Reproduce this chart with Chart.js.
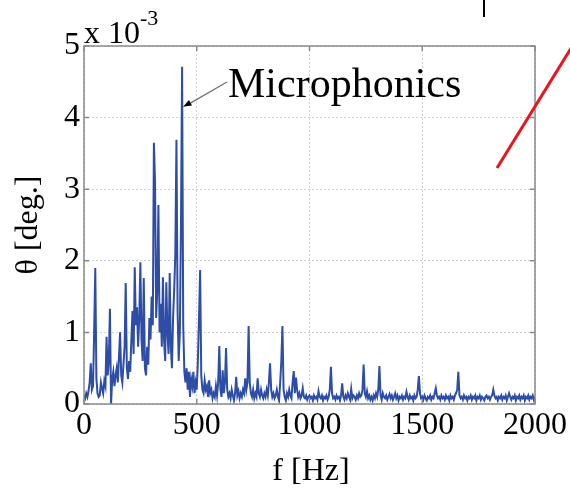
<!DOCTYPE html>
<html>
<head>
<meta charset="utf-8">
<script src="https://cdn.jsdelivr.net/npm/chart.js@4.4.1/dist/chart.umd.min.js"></script>
<style>
  html, body { margin: 0; padding: 0; background: #fff; }
  #c { display: block; }
</style>
</head>
<body>
<canvas id="c" width="570" height="492"></canvas>
<script>
// spectrum sampled every 5 Hz, amplitude in units of 1e-3 deg
const stepHz = 5;
const thetaMilli = [
  0.12, 0.08, 0.15, 0.10, 0.18, 0.30, 0.57, 0.20, 0.25, 1.00, 1.90, 0.35, 0.15, 0.10, 0.12, 0.30, 0.22, 0.15, 0.32, 0.25,
  0.94, 0.40, 0.60, 1.33, 0.00, 0.35, 0.45, 0.25, 0.40, 0.50, 0.30, 0.65, 1.00, 0.40, 0.30, 0.55, 0.80, 1.69, 0.50, 0.35,
  0.60, 0.45, 0.90, 1.30, 0.70, 1.91, 1.10, 1.35, 0.80, 1.20, 1.98, 0.90, 0.60, 1.76, 0.50, 0.40, 0.80, 0.55, 1.20, 0.90,
  1.50, 1.10, 3.65, 3.10, 1.20, 1.60, 2.78, 1.00, 1.40, 0.80, 1.77, 0.90, 0.60, 1.70, 1.00, 0.70, 1.83, 0.80, 0.50, 1.20,
  1.60, 2.10, 3.69, 1.30, 0.60, 1.00, 2.50, 4.71, 1.10, 0.45, 0.30, 0.50, 0.20, 0.45, 0.10, 0.35, 0.25, 0.45, 0.15, 0.30,
  0.20, 0.60, 1.20, 1.87, 0.40, 0.20, 0.15, 0.33, 0.20, 0.25, 0.10, 0.33, 0.15, 0.20, 0.08, 0.15, 0.10, 0.25, 0.12, 0.30,
  0.81, 0.20, 0.10, 0.47, 0.15, 0.30, 0.78, 0.20, 0.10, 0.15, 0.08, 0.20, 0.12, 0.05, 0.15, 0.38, 0.12, 0.18, 0.08, 0.15,
  0.10, 0.20, 0.15, 0.36, 0.20, 0.30, 1.09, 0.30, 0.15, 0.10, 0.20, 0.08, 0.15, 0.10, 0.36, 0.15, 0.10, 0.20, 0.12, 0.08,
  0.15, 0.10, 0.20, 0.12, 0.30, 0.57, 0.20, 0.10, 0.15, 0.08, 0.12, 0.20, 0.10, 0.05, 0.30, 0.60, 1.09, 0.20, 0.10, 0.05,
  0.15, 0.10, 0.20, 0.12, 0.08, 0.30, 0.46, 0.15, 0.37, 0.20, 0.10, 0.15, 0.08, 0.12, 0.22, 0.10, 0.08, 0.12, 0.06, 0.10,
  0.12, 0.08, 0.10, 0.05, 0.12, 0.08, 0.10, 0.06, 0.18, 0.10, 0.08, 0.12, 0.05, 0.10, 0.08, 0.12, 0.06, 0.10, 0.20, 0.52,
  0.15, 0.08, 0.10, 0.06, 0.12, 0.08, 0.10, 0.05, 0.12, 0.29, 0.10, 0.06, 0.12, 0.08, 0.15, 0.10, 0.06, 0.21, 0.08, 0.12,
  0.10, 0.06, 0.12, 0.08, 0.15, 0.10, 0.12, 0.20, 0.55, 0.15, 0.10, 0.18, 0.08, 0.12, 0.06, 0.10, 0.05, 0.12, 0.08, 0.15,
  0.10, 0.20, 0.53, 0.12, 0.06, 0.15, 0.10, 0.08, 0.12, 0.06, 0.10, 0.14, 0.08, 0.12, 0.06, 0.10, 0.15, 0.08, 0.12, 0.05,
  0.10, 0.08, 0.12, 0.06, 0.10, 0.08, 0.17, 0.10, 0.06, 0.12, 0.08, 0.10, 0.05, 0.12, 0.08, 0.10, 0.20, 0.39, 0.15, 0.08,
  0.10, 0.06, 0.12, 0.08, 0.05, 0.10, 0.08, 0.12, 0.06, 0.10, 0.08, 0.15, 0.22, 0.12, 0.08, 0.10, 0.06, 0.12, 0.08, 0.10,
  0.06, 0.12, 0.08, 0.10, 0.05, 0.12, 0.08, 0.10, 0.06, 0.12, 0.15, 0.20, 0.45, 0.12, 0.08, 0.10, 0.06, 0.12, 0.08, 0.10,
  0.05, 0.10, 0.08, 0.12, 0.06, 0.10, 0.08, 0.12, 0.05, 0.10, 0.08, 0.12, 0.06, 0.10, 0.08, 0.05, 0.10, 0.12, 0.08, 0.10,
  0.06, 0.10, 0.12, 0.20, 0.12, 0.08, 0.10, 0.05, 0.10, 0.08, 0.12, 0.06, 0.10, 0.08, 0.12, 0.05, 0.10, 0.15, 0.10, 0.06,
  0.10, 0.08, 0.12, 0.05, 0.10, 0.08, 0.12, 0.06, 0.10, 0.08, 0.12, 0.05, 0.10, 0.08, 0.12, 0.06, 0.10, 0.08, 0.12, 0.06,
  0.10
];
const xTicks = [0, 500, 1000, 1500, 2000];
const yTicks = [0, 1, 2, 3, 4, 5];

const serif = '"Liberation Serif", "DejaVu Serif", serif';
const points = thetaMilli.map((v, i) => ({ x: i * stepHz, y: v }));

// frame, labels, annotation arrow and the stray marks of the original figure
const decorations = {
  id: 'decorations',
  afterDraw(chart) {
    const ctx = chart.ctx;
    const a = chart.chartArea;
    const sx = chart.scales.x, sy = chart.scales.y;
    ctx.save();

    ctx.strokeStyle = '#8a8a8a';
    ctx.lineWidth = 1.5;
    ctx.strokeRect(a.left, a.top, a.right - a.left, a.bottom - a.top);
    ctx.beginPath();
    xTicks.forEach(t => {
      const px = sx.getPixelForValue(t);
      ctx.moveTo(px, a.bottom); ctx.lineTo(px, a.bottom - 5);
      ctx.moveTo(px, a.top); ctx.lineTo(px, a.top + 5);
    });
    yTicks.forEach(t => {
      const py = sy.getPixelForValue(t);
      ctx.moveTo(a.left, py); ctx.lineTo(a.left + 5, py);
      ctx.moveTo(a.right, py); ctx.lineTo(a.right - 5, py);
    });
    ctx.stroke();

    ctx.fillStyle = '#000';
    ctx.textBaseline = 'alphabetic';
    ctx.textAlign = 'left';
    ctx.font = '32px ' + serif;
    ctx.fillText('x 10', a.left, a.top - 3);
    const w = ctx.measureText('x 10').width;
    ctx.font = '22px ' + serif;
    ctx.fillText('-3', a.left + w, a.top - 21);

    ctx.font = '42px ' + serif;
    ctx.fillText('Microphonics', 228, 97);

    // arrow to the main peak
    const tipX = sx.getPixelForValue(435) + 1, tipY = sy.getPixelForValue(4.15);
    ctx.strokeStyle = '#707070';
    ctx.lineWidth = 1.2;
    ctx.beginPath();
    ctx.moveTo(227, 82);
    ctx.lineTo(tipX + 6, tipY - 3);
    ctx.stroke();
    const ang = Math.atan2(tipY - 82, tipX - 227);
    ctx.fillStyle = '#000';
    ctx.beginPath();
    ctx.moveTo(tipX, tipY);
    ctx.lineTo(tipX - 9 * Math.cos(ang - 0.35), tipY - 9 * Math.sin(ang - 0.35));
    ctx.lineTo(tipX - 9 * Math.cos(ang + 0.35), tipY - 9 * Math.sin(ang + 0.35));
    ctx.closePath();
    ctx.fill();

    // axis titles
    ctx.font = '32px ' + serif;
    ctx.textAlign = 'center';
    ctx.fillText('f [Hz]', 311, 480);
    ctx.save();
    ctx.translate(37, 225);
    ctx.rotate(-Math.PI / 2);
    ctx.fillText('θ [deg.]', 0, 0);
    ctx.restore();

    // red stroke and black tick cut off from the neighbouring figure
    ctx.strokeStyle = '#e8141e';
    ctx.lineWidth = 3;
    ctx.beginPath();
    ctx.moveTo(497, 168);
    ctx.lineTo(578, 37);
    ctx.stroke();
    ctx.strokeStyle = '#000';
    ctx.lineWidth = 2;
    ctx.beginPath();
    ctx.moveTo(484, 0);
    ctx.lineTo(484, 17);
    ctx.stroke();

    ctx.restore();
  }
};

new Chart(document.getElementById('c'), {
  type: 'line',
  data: {
    datasets: [{
      data: points,
      borderColor: '#2d4da6',
      borderWidth: 2,
      pointRadius: 0,
      tension: 0,
      fill: false
    }]
  },
  options: {
    responsive: false,
    animation: false,
    devicePixelRatio: 1,
    layout: { padding: { top: 46, right: 35, left: 0, bottom: 0 } },
    plugins: { legend: { display: false }, tooltip: { enabled: false } },
    scales: {
      x: {
        type: 'linear',
        min: 0,
        max: 2000,
        afterFit: s => { s.height = 88; },
        afterBuildTicks: s => { s.ticks = xTicks.map(v => ({ value: v })); },
        ticks: {
          color: '#000', font: { family: serif, size: 32 }, padding: 2, maxRotation: 0,
          callback: v => String(v)
        },
        grid: { color: '#cfcfcf', lineWidth: 1, drawTicks: false },
        border: { display: false, dash: [2, 2] }
      },
      y: {
        min: 0,
        max: 5,
        afterFit: s => { s.width = 84; },
        afterBuildTicks: s => { s.ticks = yTicks.map(v => ({ value: v })); },
        ticks: { color: '#000', font: { family: serif, size: 32 }, padding: 4, callback: v => String(v) },
        grid: { color: '#cfcfcf', lineWidth: 1, drawTicks: false },
        border: { display: false, dash: [2, 2] }
      }
    }
  },
  plugins: [decorations]
});
</script>
</body>
</html>
